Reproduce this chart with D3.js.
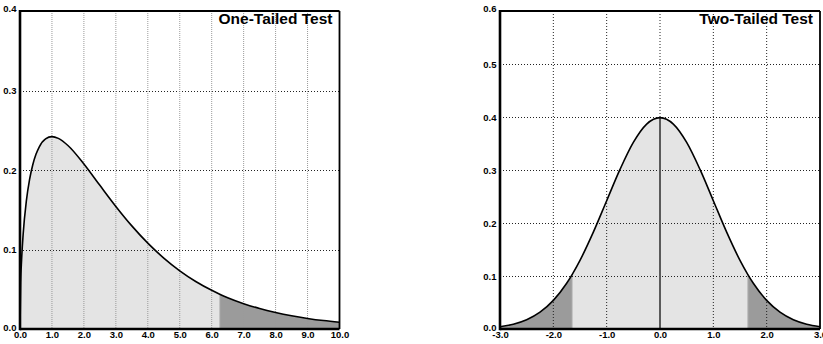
<!DOCTYPE html>
<html>
<head>
<meta charset="utf-8">
<script src="https://cdn.jsdelivr.net/npm/d3@7"></script>
<style>
  html, body { margin: 0; padding: 0; background: #fff; }
  svg { display: block; font-family: "Liberation Sans", Arial, Helvetica, sans-serif; }
</style>
</head>
<body>
<svg id="chart" width="823" height="344"></svg>
<script>
// Chi-square density (3 degrees of freedom), sampled points
const chiX = [0, 0.02, 0.05, 0.1, 0.2, 0.3, 0.4, 0.5, 0.6, 0.8, 1.0, 1.2, 1.5, 2.0, 2.5, 3.0, 3.5, 4.0, 4.5, 5.0, 5.5, 6.0, 6.25, 6.5, 7.0, 7.5, 8.0, 8.5, 9.0, 9.5, 10.0];
const chiY = [0, 0.0559, 0.0870, 0.1200, 0.1614, 0.1881, 0.2066, 0.2197, 0.2289, 0.2392, 0.2420, 0.2398, 0.2308, 0.2076, 0.1807, 0.1542, 0.1297, 0.1080, 0.0892, 0.0732, 0.0598, 0.0487, 0.0438, 0.0394, 0.0319, 0.0257, 0.0207, 0.0166, 0.0133, 0.0106, 0.0085];
const chiCritical = 6.25;

// Standard normal density, sampled points
const normX = [-3.0, -2.75, -2.5, -2.25, -2.0, -1.75, -1.645, -1.5, -1.25, -1.0, -0.75, -0.5, -0.25, 0, 0.25, 0.5, 0.75, 1.0, 1.25, 1.5, 1.645, 1.75, 2.0, 2.25, 2.5, 2.75, 3.0];
const normY = [0.0044, 0.0091, 0.0175, 0.0317, 0.0540, 0.0863, 0.1031, 0.1295, 0.1827, 0.2420, 0.3011, 0.3521, 0.3867, 0.3989, 0.3867, 0.3521, 0.3011, 0.2420, 0.1827, 0.1295, 0.1031, 0.0863, 0.0540, 0.0317, 0.0175, 0.0091, 0.0044];
const normCritical = 1.645;

// Tick values and labels
const chiXTicks = [0, 1, 2, 3, 4, 5, 6, 7, 8, 9, 10];
const chiYTicks = [0, 0.1, 0.2, 0.3, 0.4];
const normXTicks = [-3, -2, -1, 0, 1, 2, 3];
const normYTicks = [0, 0.1, 0.2, 0.3, 0.4, 0.5, 0.6];
const titles = ["One-Tailed Test", "Two-Tailed Test"];

const svg = d3.select("#chart");
// one decimal, plain hyphen for negatives
const fmt = d => d3.format(".1f")(d).replace("\u2212", "-");

const LIGHT = "#e4e4e4", DARK = "#9b9b9b";
const LABEL_FONT = "Liberation Sans, Arial, sans-serif";

function panel(opts) {
  const { xs, ys, xDomain, yDomain, xRange, yRange, xTicks, yTicks, title,
          inRegion, edges, centerLine, vGridStyle } = opts;
  const x = d3.scaleLinear().domain(xDomain).range(xRange);
  const y = d3.scaleLinear().domain(yDomain).range(yRange);
  const pts = xs.map((v, i) => ({ x: v, y: ys[i] }));
  const g = svg.append("g");

  const area = d3.area().x(d => x(d.x)).y0(y(0)).y1(d => y(d.y)).curve(d3.curveMonotoneX);
  const line = d3.line().x(d => x(d.x)).y(d => y(d.y)).curve(d3.curveMonotoneX);

  // split curve into contiguous runs: acceptance region (light) and tails (dark)
  const runs = [];
  let cur = null;
  pts.forEach((p, i) => {
    const inside = inRegion(p.x);
    const onEdge = edges.includes(p.x);
    if (!cur || (cur.inside !== inside && !onEdge)) {
      cur = { inside, pts: [] };
      runs.push(cur);
    }
    cur.pts.push(p);
    if (onEdge && i > 0 && i < pts.length - 1) {
      cur = { inside: inRegion(pts[i + 1].x), pts: [p] };
      runs.push(cur);
    }
  });
  runs.filter(r => r.pts.length > 1).forEach(r => {
    g.append("path").attr("d", area(r.pts)).attr("fill", r.inside ? LIGHT : DARK);
  });

  // boundary lines between regions
  edges.forEach(e => {
    const p = pts.find(d => d.x === e);
    g.append("line")
      .attr("x1", x(e)).attr("x2", x(e))
      .attr("y1", y(0)).attr("y2", y(p.y))
      .attr("stroke", "#bdbdbd").attr("stroke-width", 1);
  });

  // grid
  yTicks.slice(1, -1).forEach(t => {
    g.append("line")
      .attr("x1", xRange[0]).attr("x2", xRange[1])
      .attr("y1", Math.round(y(t)) + 0.5).attr("y2", Math.round(y(t)) + 0.5)
      .attr("stroke", "#222").attr("stroke-width", 1).attr("stroke-dasharray", "1,2");
  });
  xTicks.slice(1, -1).forEach(t => {
    g.append("line")
      .attr("x1", x(t)).attr("x2", x(t))
      .attr("y1", yRange[1]).attr("y2", yRange[0])
      .attr("stroke", vGridStyle.color).attr("stroke-width", 1)
      .attr("stroke-dasharray", vGridStyle.dash);
  });

  // center line at the mean
  if (centerLine !== undefined) {
    const p = pts.find(d => d.x === centerLine);
    g.append("line")
      .attr("x1", x(centerLine)).attr("x2", x(centerLine))
      .attr("y1", y(0)).attr("y2", y(p.y))
      .attr("stroke", "#5a5a5a").attr("stroke-width", 2);
  }

  // density curve
  g.append("path").attr("d", line(pts))
    .attr("fill", "none").attr("stroke", "#000").attr("stroke-width", 1.6);

  // frame
  g.append("line").attr("x1", xRange[0]).attr("x2", xRange[1]).attr("y1", yRange[1]).attr("y2", yRange[1])
    .attr("stroke", "#000").attr("stroke-width", 1.8);
  g.append("line").attr("x1", xRange[1]).attr("x2", xRange[1]).attr("y1", yRange[1]).attr("y2", yRange[0])
    .attr("stroke", "#000").attr("stroke-width", 1.8);
  g.append("line").attr("x1", xRange[0]).attr("x2", xRange[1]).attr("y1", yRange[0]).attr("y2", yRange[0])
    .attr("stroke", "#000").attr("stroke-width", 2.6);
  g.append("line").attr("x1", xRange[0]).attr("x2", xRange[0]).attr("y1", yRange[1] - 0.9).attr("y2", yRange[0] + 1.3)
    .attr("stroke", "#000").attr("stroke-width", 2.6);

  // axis labels
  const xAxis = d3.axisBottom(x).tickValues(xTicks).tickFormat(fmt).tickSize(0).tickPadding(0);
  const ax = g.append("g").attr("transform", `translate(0,${yRange[0] + 2.5})`).call(xAxis);
  ax.select(".domain").remove();
  ax.selectAll("text").attr("font-size", 9.5).attr("font-weight", "bold").attr("fill", "#000")
    .attr("dy", "0.71em").attr("y", 0).attr("font-family", LABEL_FONT);

  const yAxis = d3.axisLeft(y).tickValues(yTicks).tickFormat(fmt).tickSize(0).tickPadding(0);
  const ay = g.append("g").attr("transform", `translate(${xRange[0] - 3.5},0)`).call(yAxis);
  ay.select(".domain").remove();
  ay.selectAll("text").attr("font-size", 9.5).attr("font-weight", "bold").attr("fill", "#000")
    .attr("font-family", LABEL_FONT)
    .attr("dy", (d, i) => i === yTicks.length - 1 ? "0" : (i === 0 ? "0.2em" : "0.35em"));

  // title
  g.append("text")
    .attr("x", xRange[1] - 7).attr("y", yRange[1] + 13)
    .attr("text-anchor", "end")
    .attr("font-size", 15.5).attr("font-weight", "bold").attr("fill", "#000")
    .text(title);
}

panel({
  xs: chiX, ys: chiY,
  xDomain: [0, 10], yDomain: [0, 0.4],
  xRange: [20, 339.5], yRange: [329, 11],
  xTicks: chiXTicks, yTicks: chiYTicks,
  title: titles[0],
  inRegion: v => v < chiCritical,
  edges: [chiCritical],
  vGridStyle: { color: "#9a9a9a", dash: "1,1" }
});

panel({
  xs: normX, ys: normY,
  xDomain: [-3, 3], yDomain: [0, 0.6],
  xRange: [500, 820], yRange: [329, 11],
  xTicks: normXTicks, yTicks: normYTicks,
  title: titles[1],
  inRegion: v => Math.abs(v) < normCritical,
  edges: [-normCritical, normCritical],
  centerLine: 0,
  vGridStyle: { color: "#222", dash: "1,2" }
});
</script>
</body>
</html>
